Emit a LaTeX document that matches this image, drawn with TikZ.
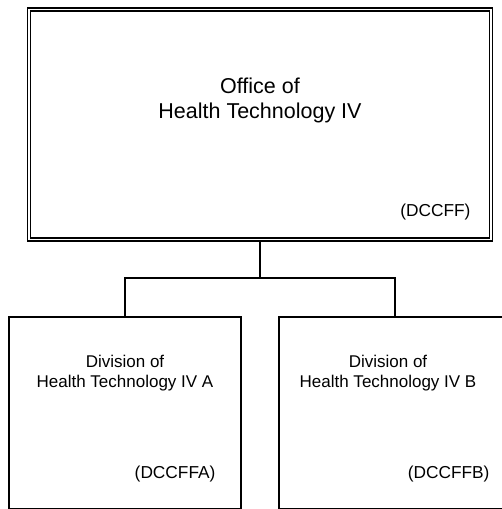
\documentclass[tikz,border=0pt]{standalone}
\usepackage{fontspec}
\setmainfont{Liberation Sans}
\tikzset{
	officebox/.style={draw=black, line width=1.2pt, double=white, double distance=1.8pt, inner sep=0pt},
	unitbox/.style={draw=black, line width=1.3pt, inner sep=0pt, minimum width=232pt, minimum height=192pt},
	link/.style={draw=black, line width=1.3pt},
}
\begin{document}
\begin{tikzpicture}[x=1pt, y=-1pt]
	\useasboundingbox (0,0) rectangle (502,509);

	\node[officebox, minimum width=462pt, minimum height=230pt] (office) at (260,124.5) {};
	\node[unitbox] (divA) at (125,413) {};
	\node[unitbox] (divB) at (395,413) {};
	\coordinate (split) at (260,278);

	\node[anchor=base, font=\fontsize{21.5}{25}\selectfont] (officeT1) at (260,93)  {Office of};
	\node[anchor=base, font=\fontsize{21.5}{25}\selectfont] (officeT2) at (260,118) {Health Technology IV};
	\node[anchor=base east, font=\fontsize{17.3}{20}\selectfont] (officeCode) at (474,216) {(DCCFF)};

	\node[anchor=base, font=\fontsize{17}{20}\selectfont] (divAT1) at (125,367) {Division of};
	\node[anchor=base, font=\fontsize{17}{20}\selectfont] (divAT2) at (125,387) {Health Technology IV A};
	\node[anchor=base east, font=\fontsize{17.3}{20}\selectfont] (divACode) at (219,478) {(DCCFFA)};

	\node[anchor=base, font=\fontsize{17}{20}\selectfont] (divBT1) at (388,367) {Division of};
	\node[anchor=base, font=\fontsize{17}{20}\selectfont] (divBT2) at (388,387) {Health Technology IV B};
	\node[anchor=base east, font=\fontsize{17.3}{20}\selectfont] (divBCode) at (493,478) {(DCCFFB)};

	\path [link] (office.south) -- (split);
	\path [link] (divA.north) |- (split) -| (divB.north);
\end{tikzpicture}
\end{document}
